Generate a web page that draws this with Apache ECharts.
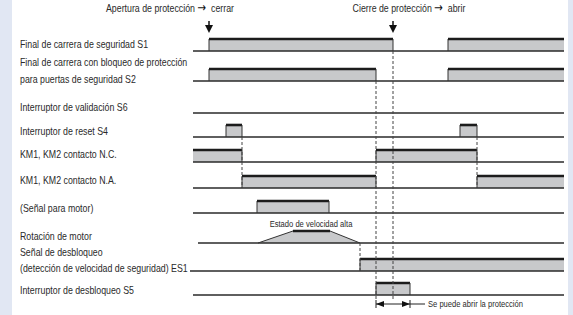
<!DOCTYPE html>
<html>
<head>
<meta charset="utf-8">
<script src="https://cdn.jsdelivr.net/npm/echarts@6/dist/echarts.min.js"></script>
<style>
html, body { margin: 0; padding: 0; background: #fff; }
#chart { width: 573px; height: 315px; }
</style>
</head>
<body>
<div id="chart"></div>
<script>
// signal timing, in time units along the x axis
const s1Edges = [209, 393, 448];
const s2Edges = [209, 376, 448];
const s6Edges = [];
const s4Edges = [226, 242, 460, 477];
const ncEdges = [242, 376, 477];
const naEdges = [242, 376, 477];
const motorSigEdges = [257, 329];
const rotationPoints = [[198, 0], [258, 0], [293, 1], [330, 1], [360, 0], [564, 0]];
const es1Edges = [360];
const s5Edges = [376, 410];

const rowLabels = [
  ['Final de carrera de seguridad S1'],
  ['Final de carrera con bloqueo de protección', 'para puertas de seguridad S2'],
  ['Interruptor de validación S6'],
  ['Interruptor de reset S4'],
  ['KM1, KM2 contacto N.C.'],
  ['KM1, KM2 contacto N.A.'],
  ['(Señal para motor)'],
  ['Rotación de motor'],
  ['Señal de desbloqueo', '(detección de velocidad de seguridad) ES1'],
  ['Interruptor de desbloqueo S5']
];
const topNotes = ['Apertura de protección {a|\u2192}  cerrar', 'Cierre de protección {a|\u2192}  abrir'];
const noteTimes = [209, 393];
const speedNote = 'Estado de velocidad alta';
const openNote = 'Se puede abrir la protección';
const openWindow = [376, 410];

// layout
const FONT = "'Liberation Sans', Arial, sans-serif";
const SQUEEZE = 0.8; // the original uses a condensed face
const HIGH = 12;
const rows = [
  { edges: s1Edges, init: 0, start: 193, end: 564, base: 51, labelY: [44] },
  { edges: s2Edges, init: 0, start: 193, end: 564, base: 81, labelY: [62, 79] },
  { edges: s6Edges, init: 0, start: 193, end: 564, base: 113, labelY: [107] },
  { edges: s4Edges, init: 0, start: 193, end: 564, base: 137, labelY: [131] },
  { edges: ncEdges, init: 1, start: 193, end: 564, base: 162, labelY: [154] },
  { edges: naEdges, init: 0, start: 193, end: 564, base: 188, labelY: [180] },
  { edges: motorSigEdges, init: 0, start: 193, end: 564, base: 213, labelY: [208] },
  { points: rotationPoints, base: 243, labelY: [236] },
  { edges: es1Edges, init: 0, start: 190, end: 564, base: 271, labelY: [252, 268] },
  { edges: s5Edges, init: 0, start: 193, end: 564, base: 295, labelY: [290] }
];
// dashed guides: [time, yFrom, yTo]
const guides = [[242, 137, 188], [477, 137, 188], [376, 81, 300], [393, 51, 300], [360, 243, 271]];

function toPoints(r) {
  if (r.points) return r.points;
  const pts = [[r.start, r.init]];
  let lvl = r.init;
  r.edges.forEach(function (t) {
    pts.push([t, lvl]);
    lvl = 1 - lvl;
    pts.push([t, lvl]);
  });
  pts.push([r.end, lvl]);
  return pts;
}

function text(x, y, str, size, align) {
  return {
    type: 'text',
    x: x, y: y, scaleX: SQUEEZE,
    style: {
      x: 0, y: 0, text: str, fill: '#2a2a2a', font: size + 'px ' + FONT,
      align: align || 'left', verticalAlign: 'middle',
      rich: { a: { fontFamily: 'DejaVu Sans', fontSize: size + 2, fill: '#111' } }
    }
  };
}

function renderRow(params, api) {
  const r = rows[params.dataIndex];
  const pts = toPoints(r);
  const px = function (p) { return api.coord([p[0], r.base - p[1] * HIGH]); };
  const children = [];
  const poly = pts.map(px);
  const b0 = api.coord([pts[0][0], r.base]);
  const b1 = api.coord([pts[pts.length - 1][0], r.base]);
  children.push({ type: 'polygon', shape: { points: poly.concat([b1, b0]) }, style: { fill: '#c8c9cb' } });
  children.push({ type: 'line', shape: { x1: b0[0], y1: b0[1], x2: b1[0], y2: b1[1] }, style: { stroke: '#2a2a2a', lineWidth: 1.3 } });
  for (let i = 1; i < pts.length; i++) {
    const a = pts[i - 1], b = pts[i];
    if (a[1] === 0 && b[1] === 0) continue;
    const A = px(a), B = px(b);
    const thick = a[1] === 1 && b[1] === 1;
    children.push({
      type: 'line',
      shape: { x1: A[0], y1: A[1], x2: B[0], y2: B[1] },
      style: { stroke: thick ? '#1c1c1c' : '#333', lineWidth: thick ? 2.6 : 1 }
    });
  }
  rowLabels[params.dataIndex].forEach(function (s, k) {
    const p = api.coord([20, r.labelY[k]]);
    children.push(text(p[0], p[1], s, 11));
  });
  return { type: 'group', children: children };
}

function downArrow(api, t) {
  const a = api.coord([t, 21]), b = api.coord([t, 33]);
  return [
    { type: 'line', shape: { x1: a[0], y1: a[1], x2: a[0], y2: b[1] - 5 }, style: { stroke: '#111', lineWidth: 1.5 } },
    { type: 'polygon', shape: { points: [[b[0] - 4, b[1] - 8], [b[0] + 4, b[1] - 8], [b[0], b[1]]] }, style: { fill: '#111' } }
  ];
}

function renderNotes(params, api) {
  let children = [];
  guides.forEach(function (g) {
    const a = api.coord([g[0], g[1]]), b = api.coord([g[0], g[2]]);
    children.push({ type: 'line', shape: { x1: a[0], y1: a[1], x2: b[0], y2: b[1] }, style: { stroke: '#444', lineWidth: 1, lineDash: [3, 2] }, z2: 5 });
  });
  noteTimes.forEach(function (t) { children = children.concat(downArrow(api, t)); });
  let p = api.coord([170, 8]);
  children.push(text(p[0], p[1], topNotes[0], 11, 'center'));
  p = api.coord([409, 8]);
  children.push(text(p[0], p[1], topNotes[1], 11, 'center'));
  p = api.coord([311, 224]);
  children.push(text(p[0], p[1], speedNote, 9.5, 'center'));

  const L = api.coord([openWindow[0], 304]), R = api.coord([openWindow[1], 304]);
  const stroke = { stroke: '#222', lineWidth: 1 };
  children.push({ type: 'line', shape: { x1: L[0], y1: L[1] - 4, x2: L[0], y2: L[1] + 4 }, style: stroke });
  children.push({ type: 'line', shape: { x1: R[0], y1: R[1] - 4, x2: R[0], y2: R[1] + 4 }, style: stroke });
  children.push({ type: 'line', shape: { x1: L[0], y1: L[1], x2: R[0] + 15, y2: R[1] }, style: stroke });
  children.push({ type: 'polygon', shape: { points: [[L[0], L[1]], [L[0] + 8, L[1] - 3], [L[0] + 8, L[1] + 3]] }, style: { fill: '#111' } });
  children.push({ type: 'polygon', shape: { points: [[R[0], R[1]], [R[0] - 8, R[1] - 3], [R[0] - 8, R[1] + 3]] }, style: { fill: '#111' } });
  children.push(text(R[0] + 18, R[1], openNote, 9.5));
  return { type: 'group', children: children };
}

const chart = echarts.init(document.getElementById('chart'), null, { renderer: 'svg' });
chart.setOption({
  animation: false,
  backgroundColor: '#fff',
  graphic: [
    { type: 'rect', shape: { x: 0, y: 0, width: 12, height: 315 }, style: { fill: '#e1e7f3' }, z: -10 },
    { type: 'rect', shape: { x: 568, y: 0, width: 5, height: 315 }, style: { fill: '#e1e7f3' }, z: -10 }
  ],
  grid: { left: 0, right: 0, top: 0, bottom: 0 },
  xAxis: { type: 'value', min: 0, max: 573, show: false },
  yAxis: { type: 'value', min: 0, max: 315, inverse: true, show: false },
  series: [
    { type: 'custom', renderItem: renderRow, data: rows.map(function (r, i) { return i; }), clip: false, silent: true },
    { type: 'custom', renderItem: renderNotes, data: [0], clip: false, silent: true, z: 3 }
  ]
});
</script>
</body>
</html>
